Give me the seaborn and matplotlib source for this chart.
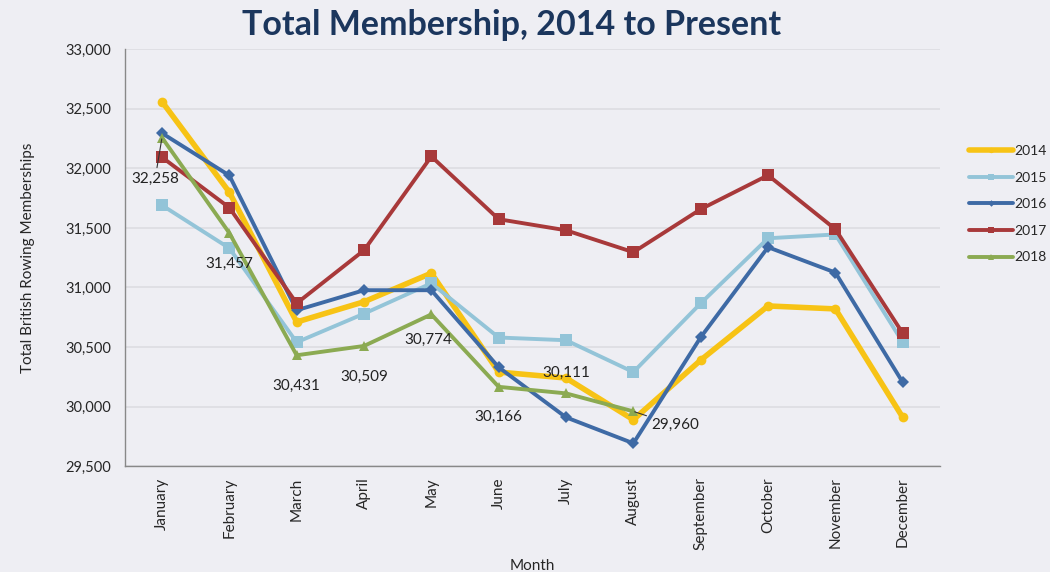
import matplotlib
import matplotlib.pyplot as plt
import pandas as pd
import seaborn as sns
from matplotlib.ticker import FuncFormatter

matplotlib.use("Agg")

MONTHS = ["January", "February", "March", "April", "May", "June", "July",
          "August", "September", "October", "November", "December"]

Y2014 = [32560, 31800, 30710, 30880, 31120, 30290, 30240, 29890, 30390, 30845, 30820, 29910]
Y2015 = [31690, 31330, 30540, 30780, 31035, 30580, 30557, 30290, 30867, 31413, 31445, 30540]
Y2016 = [32295, 31940, 30809, 30977, 30977, 30330, 29910, 29692, 30582, 31338, 31125, 30204]
Y2017 = [32093, 31670, 30867, 31312, 32100, 31573, 31480, 31296, 31657, 31942, 31489, 30616]
Y2018 = [32258, 31457, 30431, 30509, 30774, 30166, 30111, 29960]

YEARS  = ["2014", "2015", "2016", "2017", "2018"]
VALUES = [Y2014, Y2015, Y2016, Y2017, Y2018]
COLORS = ["#F7C315", "#93C4D8", "#3E6AA5", "#A8393A", "#8BAA52"]
MARKERS = ["o", "s", "D", "s", "^"]
WIDTHS = [4.0, 2.8, 2.8, 2.8, 2.8]
MSIZES = [7, 8, 6, 8, 7]

BG = "#EEEEF3"

sns.set_theme(style="white")
plt.rcParams["font.family"] = ["Lato", "DejaVu Sans"]

fig = plt.figure(figsize=(10.5, 5.72), dpi=100, facecolor=BG)
ax = fig.add_axes([0.119, 0.185, 0.776, 0.729])
ax.set_facecolor(BG)

for year, vals, col, mk, lw, ms in zip(YEARS, VALUES, COLORS, MARKERS, WIDTHS, MSIZES):
    df = pd.DataFrame({"x": list(range(len(vals))), "y": vals})
    sns.lineplot(data=df, x="x", y="y", ax=ax, color=col, linewidth=lw,
                 marker=mk, markersize=ms, markeredgewidth=0, label=year)

# data labels for 2018, with leader lines on the two crowded ones
label_offsets = [(-5, -30), (0, -22), (0, -22), (0, -22), (-2, -18), (0, -22), (0, 15), (30, -10)]
for i, (v, off) in enumerate(zip(Y2018, label_offsets)):
    leader = dict(arrowstyle="-", color="#333333", lw=0.8, shrinkA=1, shrinkB=1) if i in (0, 7) else None
    ax.annotate(f"{v:,}", (i, v), xytext=off, textcoords="offset points",
                ha="center", va="center", fontsize=11, color="#222222",
                arrowprops=leader)

ax.set_xlim(-0.55, 11.55)
ax.set_ylim(29500, 33000)
ax.set_yticks(range(29500, 33001, 500))
ax.yaxis.set_major_formatter(FuncFormatter(lambda v, p: f"{int(v):,}"))
ax.set_xticks(range(12))
ax.set_xticklabels(MONTHS, rotation=90, fontsize=11)
ax.tick_params(axis="y", labelsize=10.5, length=0, pad=10)
ax.tick_params(axis="x", length=0, pad=8)
ax.grid(axis="y", color="#DCDCE2", linewidth=1.2)
ax.set_axisbelow(True)

for s in ["top", "right"]:
    ax.spines[s].set_visible(False)
for s in ["left", "bottom"]:
    ax.spines[s].set_color("#888888")
    ax.spines[s].set_linewidth(1.0)

ax.set_xlabel("Month", fontsize=11, labelpad=6)
ax.set_ylabel("Total British Rowing Memberships", fontsize=11, labelpad=22)

fig.suptitle("Total Membership, 2014 to Present", fontsize=24.5, fontweight="bold",
             color="#1B365D", x=0.487, y=0.985)

ax.legend(loc="upper left", bbox_to_anchor=(1.02, 0.80), frameon=False,
          fontsize=10, handlelength=3.2, labelspacing=1.05, handletextpad=0.1,
          markerscale=0.55)

fig.savefig("out.png", dpi=100, facecolor=BG)
